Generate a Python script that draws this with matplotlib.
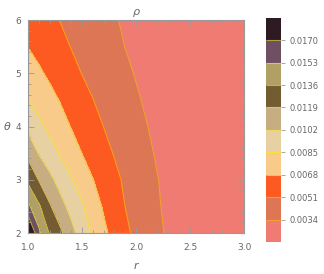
import numpy as np
import matplotlib.pyplot as plt
from matplotlib.ticker import MultipleLocator

# grid: rho at (r, theta)
r_vals = [1.0, 1.1, 1.2, 1.3, 1.4, 1.5, 1.6, 1.7, 1.8, 1.9, 2.0, 2.1, 2.2, 2.3, 2.5, 3.0]
theta_vals = [2.0, 2.5, 3.0, 3.5, 4.0, 4.5, 5.0, 5.5, 6.0]

rho_t20 = [0.0195, 0.01571, 0.01345, 0.01223, 0.01075, 0.00941, 0.00822, 0.00716, 0.00625, 0.00542, 0.00476, 0.00422, 0.00367, 0.00320, 0.00256, 0.00157]
rho_t25 = [0.0157, 0.01383, 0.01212, 0.01076, 0.00966, 0.00870, 0.00763, 0.00662, 0.00585, 0.00509, 0.00456, 0.00404, 0.00352, 0.00312, 0.00253, 0.00160]
rho_t30 = [0.0132, 0.01184, 0.01062, 0.00958, 0.00863, 0.00773, 0.00684, 0.00615, 0.00546, 0.00487, 0.00439, 0.00391, 0.00343, 0.00309, 0.00255, 0.00167]
rho_t35 = [0.0115, 0.01011, 0.00922, 0.00835, 0.00756, 0.00678, 0.00618, 0.00558, 0.00501, 0.00456, 0.00410, 0.00365, 0.00325, 0.00297, 0.00249, 0.00170]
rho_t40 = [0.0098, 0.00889, 0.00810, 0.00741, 0.00674, 0.00619, 0.00564, 0.00509, 0.00467, 0.00426, 0.00385, 0.00343, 0.00314, 0.00289, 0.00247, 0.00176]
rho_t45 = [0.0085, 0.00790, 0.00729, 0.00670, 0.00618, 0.00565, 0.00513, 0.00473, 0.00433, 0.00394, 0.00355, 0.00323, 0.00298, 0.00277, 0.00240, 0.00176]
rho_t50 = [0.0076, 0.00704, 0.00652, 0.00603, 0.00554, 0.00507, 0.00471, 0.00436, 0.00400, 0.00365, 0.00332, 0.00310, 0.00289, 0.00271, 0.00240, 0.00184]
rho_t55 = [0.00677, 0.00633, 0.00591, 0.00548, 0.00506, 0.00472, 0.00439, 0.00405, 0.00371, 0.00338, 0.00316, 0.00297, 0.00279, 0.00264, 0.00236, 0.00186]
rho_t60 = [0.00622, 0.00583, 0.00544, 0.00506, 0.00475, 0.00443, 0.00412, 0.00381, 0.00349, 0.00326, 0.00307, 0.00290, 0.00275, 0.00261, 0.00238, 0.00192]

levels = [0.0034, 0.0051, 0.0068, 0.0085, 0.0102, 0.0119, 0.0136, 0.0153, 0.0170]

band_colors = ['#f07b73', '#dc7655', '#fd5a22', '#f8cb8a', '#e7d0a1',
               '#c7ad82', '#735c31', '#b1a065', '#6e5062', '#2e1a22']
line_colors = ['#f0a030', '#f5a020', '#f8c040', '#f8e040', '#f0d860',
               '#e0c060', '#c8b040', '#d8c850', '#b0a040']

gray = '#666666'
frame = '#999999'

Z = np.array([rho_t20, rho_t25, rho_t30, rho_t35, rho_t40,
              rho_t45, rho_t50, rho_t55, rho_t60])
R, T = np.meshgrid(r_vals, theta_vals)

fig = plt.figure(figsize=(3.24, 2.74), dpi=100)
ax = fig.add_axes([0.0864, 0.1496, 0.667, 0.777])
cax = fig.add_axes([0.821, 0.117, 0.045, 0.818])

cf = ax.contourf(R, T, Z, levels=[0] + levels + [1], colors=band_colors)
cs = ax.contour(R, T, Z, levels=levels, colors=line_colors, linewidths=0.8)

ax.set_xlim(1, 3)
ax.set_ylim(2, 6)
ax.xaxis.set_major_locator(MultipleLocator(0.5))
ax.xaxis.set_minor_locator(MultipleLocator(0.1))
ax.yaxis.set_major_locator(MultipleLocator(1))
ax.yaxis.set_minor_locator(MultipleLocator(0.2))
ax.tick_params(which='both', direction='in', top=True, right=True,
               color=frame, labelcolor=gray, labelsize=6.5, width=0.6)
ax.tick_params(which='major', length=4)
ax.tick_params(which='minor', length=2)
ax.tick_params(axis='x', pad=7)
ax.tick_params(axis='y', pad=5)
for s in ax.spines.values():
    s.set_color(frame)
    s.set_linewidth(0.8)

ax.set_title('ρ', style='italic', color=gray, fontsize=8, pad=4)
ax.set_xlabel('r', style='italic', color=gray, fontsize=8, labelpad=7)
ax.set_ylabel('θ', style='italic', color=gray, fontsize=8, rotation=0,
              labelpad=6, va='center')

cb = fig.colorbar(cf, cax=cax, spacing='uniform', ticks=levels, format='%.4f')
cb.add_lines(cs)
cb.outline.set_visible(False)
cax.tick_params(color=frame, labelcolor=gray, labelsize=6, length=3, width=0.6)

fig.savefig('out.png', dpi=100)
